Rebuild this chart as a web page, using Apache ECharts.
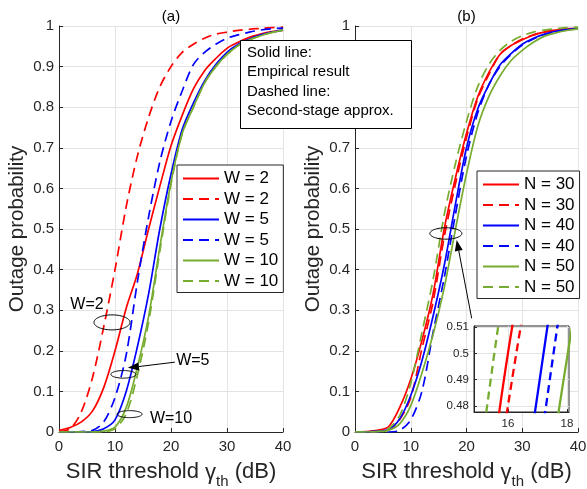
<!DOCTYPE html>
<html><head><meta charset="utf-8">
<script src="https://cdn.jsdelivr.net/npm/echarts@6/dist/echarts.min.js"></script>
<style>html,body{margin:0;padding:0;background:#fff}#c{width:587px;height:489px}</style>
</head><body><div id="c"></div>
<script>
// ---------- data ----------
const xs = [0,2,4,6,8,10,12,14,16,18,20,22,24,26,28,30,32,34,36,38,40];
const xTicks = [0,10,20,30,40];
const yTicks = [0,0.1,0.2,0.3,0.4,0.5,0.6,0.7,0.8,0.9,1];
const insetYTicks = [0.48,0.49,0.5,0.51];
const insetXTicks = [16,18];
const panelTitles = ['(a)','(b)'];
const legendA = ['W = 2','W = 2','W = 5','W = 5','W = 10','W = 10'];
const legendB = ['N = 30','N = 30','N = 40','N = 40','N = 50','N = 50'];
const boxLines = ['Solid line:','Empirical result','Dashed line:','Second-stage approx.'];

// panel (a)
const w2Emp  = [0.004,0.011,0.025,0.052,0.11,0.20,0.305,0.39,0.50,0.605,0.705,0.78,0.845,0.89,0.92,0.945,0.96,0.972,0.98,0.986,0.99];
const w2App  = [0.001,0.008,0.05,0.135,0.26,0.40,0.555,0.68,0.775,0.85,0.90,0.935,0.955,0.97,0.98,0.985,0.989,0.992,0.994,0.996,0.997];
const w5Emp  = [0,0,0,0.001,0.008,0.03,0.10,0.21,0.34,0.50,0.635,0.745,0.81,0.865,0.905,0.935,0.955,0.968,0.978,0.985,0.99];
const w5App  = [0,0,0.001,0.004,0.025,0.085,0.19,0.37,0.53,0.665,0.765,0.84,0.905,0.935,0.955,0.97,0.978,0.985,0.99,0.993,0.995];
const w10Emp = [0,0,0,0,0.002,0.012,0.06,0.16,0.285,0.455,0.615,0.735,0.80,0.86,0.90,0.93,0.952,0.966,0.976,0.984,0.99];
const w10App = [0,0,0,0,0.001,0.008,0.045,0.14,0.27,0.445,0.61,0.735,0.80,0.86,0.90,0.93,0.952,0.966,0.976,0.984,0.99];
// panel (b)
const n30Emp = [0,0.001,0.004,0.013,0.06,0.13,0.225,0.34,0.50,0.625,0.735,0.825,0.885,0.93,0.952,0.966,0.978,0.985,0.99,0.993,0.995];
const n30App = [0,0,0.001,0.005,0.03,0.085,0.205,0.32,0.48,0.61,0.725,0.82,0.88,0.93,0.952,0.968,0.978,0.986,0.99,0.993,0.995];
const n40Emp = [0,0,0.002,0.006,0.032,0.09,0.175,0.285,0.41,0.56,0.70,0.795,0.855,0.904,0.932,0.955,0.97,0.98,0.987,0.991,0.994];
const n40App = [0,0,0,0,0.004,0.03,0.10,0.245,0.38,0.535,0.68,0.785,0.855,0.90,0.93,0.953,0.968,0.979,0.986,0.991,0.994];
const n50Emp = [0,0,0.001,0.004,0.02,0.065,0.145,0.24,0.355,0.498,0.636,0.752,0.826,0.877,0.915,0.94,0.96,0.975,0.983,0.989,0.993];
const n50App = [0,0,0.001,0.008,0.04,0.12,0.245,0.375,0.535,0.66,0.765,0.85,0.905,0.94,0.962,0.976,0.985,0.99,0.993,0.996,0.997];

// ---------- styling ----------
const FONT = "'Liberation Sans', Arial, Helvetica, sans-serif";
const AX = '#262626';
const RED = '#ff0000', BLUE = '#0000ff', GREEN = '#77ac30';
const seriesA = [[w2Emp,RED,false],[w2App,RED,true],[w5Emp,BLUE,false],[w5App,BLUE,true],[w10Emp,GREEN,false],[w10App,GREEN,true]];
const seriesB = [[n30Emp,RED,false],[n30App,RED,true],[n40Emp,BLUE,false],[n40App,BLUE,true],[n50Emp,GREEN,false],[n50App,GREEN,true]];

// unique series names (dashed ones get a trailing space, trimmed in the legend)
const namesA = legendA.map((n,i)=> i%2 ? n+' ' : n);
const namesB = legendB.map((n,i)=> i%2 ? n+' ' : n);

function mk(name, vals, color, dashed, idx, lw, dash, z) {
  return {
    type:'line', name, xAxisIndex: idx, yAxisIndex: idx,
    data: xs.map((x,i)=>[x, vals[i]]),
    symbol:'none', showSymbol:false, smooth:0.3, clip:true, silent:true,
    lineStyle:{color, width:lw, type: dashed ? dash : 'solid'},
    itemStyle:{color}, z, animation:false
  };
}

const series = [];
seriesA.forEach((s,i)=>series.push(mk(namesA[i], s[0], s[1], s[2], 0, 1.7, [10,6], 2)));
seriesB.forEach((s,i)=>series.push(mk(namesB[i], s[0], s[1], s[2], 1, 1.7, [10,6], 2)));
seriesB.forEach((s,i)=>series.push(mk('inset'+i, s[0], s[1], s[2], 2, 2.3, [8,5], 5)));

function xName() {
  return {
    name: '{a|SIR threshold }{g|γ}{s|th}{a| (dB)}',
    nameLocation:'middle', nameGap: 29,
    nameTextStyle:{ rich:{
      a:{fontSize:22, fontFamily:FONT, color:AX, verticalAlign:'bottom', padding:[0,0,6,0]},
      g:{fontSize:22, fontFamily:FONT, color:AX, verticalAlign:'bottom', padding:[0,0,5,0]},
      s:{fontSize:15, fontFamily:FONT, color:AX, verticalAlign:'bottom'}
    }}
  };
}
function mainX(gi) {
  return Object.assign({
    type:'value', gridIndex:gi, min:0, max:40, interval:10,
    axisLine:{show:true, onZero:false, lineStyle:{color:AX, width:1}},
    axisTick:{show:true, inside:true, length:4, lineStyle:{color:AX}},
    axisLabel:{fontSize:15, color:AX, fontFamily:FONT, margin:7, customValues: xTicks},
    splitLine:{show:true, lineStyle:{color:'#e3e3e3', width:1}}
  }, xName());
}
function mainY(gi) {
  return {
    type:'value', gridIndex:gi, min:0, max:1, interval:0.1,
    name:'Outage probability', nameLocation:'middle', nameGap:31,
    nameTextStyle:{fontSize:20.5, color:AX, fontFamily:FONT},
    axisLine:{show:true, onZero:false, lineStyle:{color:AX, width:1}},
    axisTick:{show:true, inside:true, length:4, lineStyle:{color:AX}},
    axisLabel:{fontSize:15, color:AX, fontFamily:FONT, margin:5, customValues: yTicks},
    splitLine:{show:true, lineStyle:{color:'#e3e3e3', width:1}}
  };
}

function legend(names, left, top) {
  return {
    data: names, orient:'vertical', left, top,
    itemWidth:36, itemHeight:14, itemGap:3.5,
    padding:[5,5,3,5], borderColor:'#262626', borderWidth:1, backgroundColor:'#fff',
    borderRadius:0, selectedMode:false, z:6,
    formatter: n => n.trim(),
    textStyle:{fontSize:17, color:'#000', fontFamily:FONT},
    itemStyle:{opacity:0}
  };
}

const option = {
  animation:false,
  backgroundColor:'#fff',
  grid:[
    {left:59, top:26, width:224, height:406, outerBoundsMode:'none', containLabel:false},
    {left:355, top:26, width:223, height:406, outerBoundsMode:'none', containLabel:false},
    {left:474, top:326, width:95, height:86, outerBoundsMode:'none', containLabel:false, show:true, backgroundColor:'#fff', borderColor:AX, borderWidth:1, z:3}
  ],
  xAxis:[ mainX(0), mainX(1), {
    type:'value', gridIndex:2, min:14.85, max:18.07, z:4,
    axisLine:{show:true, onZero:false, lineStyle:{color:AX}},
    axisTick:{show:true, inside:true, length:3, lineStyle:{color:AX}, customValues: insetXTicks},
    axisLabel:{fontSize:11.5, color:AX, fontFamily:FONT, margin:6, customValues: insetXTicks},
    splitLine:{show:true, lineStyle:{color:'#e3e3e3'}}
  }],
  yAxis:[ mainY(0), mainY(1), {
    type:'value', gridIndex:2, min:0.4777, max:0.5104, z:4,
    axisLine:{show:true, onZero:false, lineStyle:{color:AX}},
    axisTick:{show:true, inside:true, length:3, lineStyle:{color:AX}, customValues: insetYTicks},
    axisLabel:{fontSize:11.5, color:AX, fontFamily:FONT, margin:5, customValues: insetYTicks},
    splitLine:{show:true, lineStyle:{color:'#e3e3e3'}}
  }],
  legend:[ legend(namesA, 177, 165), legend(namesB, 477, 171) ],
  series
};

const chart = echarts.init(document.getElementById('c'), null, {renderer:'canvas'});
chart.setOption(option);

// ---------- annotations (positioned in data coordinates) ----------
const annotA = {
  labels: [['W=2', 5.0, 0.313], ['W=5', 23.9, 0.175], ['W=10', 20.0, 0.032]],
  ellipses: [[9.46, 0.27, 18, 7.5], [11.5, 0.142, 12.5, 3.8], [12.6, 0.044, 12.5, 3.5]],
  arrows: [[20.7, 0.172, 12.3, 0.158]]
};
const annotB = {
  ellipses: [[16.3, 0.489, 16, 5.7]],
  arrows: [[20.93, 0.28, 18.24, 0.473]]
};
const P = (g, x, y) => chart.convertToPixel({gridIndex:g}, [x, y]);
const els = [];
function ellipse(g, e) {
  const c = P(g, e[0], e[1]); const pts = [];
  for (let i = 0; i < 72; i++) { const t = i/72*2*Math.PI; pts.push([c[0]+e[2]*Math.cos(t), c[1]+e[3]*Math.sin(t)]); }
  els.push({type:'polygon', shape:{points:pts}, style:{fill:null, stroke:'#000', lineWidth:1}, z:20, silent:true});
}
function arrow(g, a) {
  const p = P(g, a[0], a[1]), q = P(g, a[2], a[3]);
  const ang = Math.atan2(q[1]-p[1], q[0]-p[0]);
  const L = 11, W = 4;
  const b = [q[0]-L*Math.cos(ang), q[1]-L*Math.sin(ang)];
  const nx = -Math.sin(ang), ny = Math.cos(ang);
  els.push({type:'line', shape:{x1:p[0], y1:p[1], x2:b[0], y2:b[1]}, style:{stroke:'#000', lineWidth:1}, z:20, silent:true});
  els.push({type:'polygon', shape:{points:[q,[b[0]+W*nx,b[1]+W*ny],[b[0]-W*nx,b[1]-W*ny]]}, style:{fill:'#000'}, z:20, silent:true});
}
annotA.ellipses.forEach(e=>ellipse(0,e));
annotA.arrows.forEach(a=>arrow(0,a));
annotA.labels.forEach(l=>{ const c = P(0, l[1], l[2]);
  els.push({type:'text', x:c[0], y:c[1], style:{text:l[0], fontSize:16, fontFamily:FONT, fill:'#000', align:'center', verticalAlign:'middle'}, z:20, silent:true}); });
annotB.ellipses.forEach(e=>ellipse(1,e));
annotB.arrows.forEach(a=>arrow(1,a));

// panel titles
[0,1].forEach(g=>{ const c = P(g, 20, 1);
  els.push({type:'text', x:c[0], y:c[1]-9.5, style:{text:panelTitles[g], fontSize:15, fontFamily:FONT, fill:'#000', align:'center', verticalAlign:'middle'}, z:20, silent:true}); });

// text box
els.push({type:'rect', shape:{x:240.5, y:40.5, width:171, height:88}, style:{fill:'#fff', stroke:'#000', lineWidth:1}, z:18, silent:true});
boxLines.forEach((t,i)=>els.push({type:'text', x:247, y:53+i*19.3, style:{text:t, fontSize:15, fontFamily:FONT, fill:'#000', align:'left', verticalAlign:'middle'}, z:20, silent:true}));

chart.setOption({graphic:{elements:els}});
</script></body></html>
